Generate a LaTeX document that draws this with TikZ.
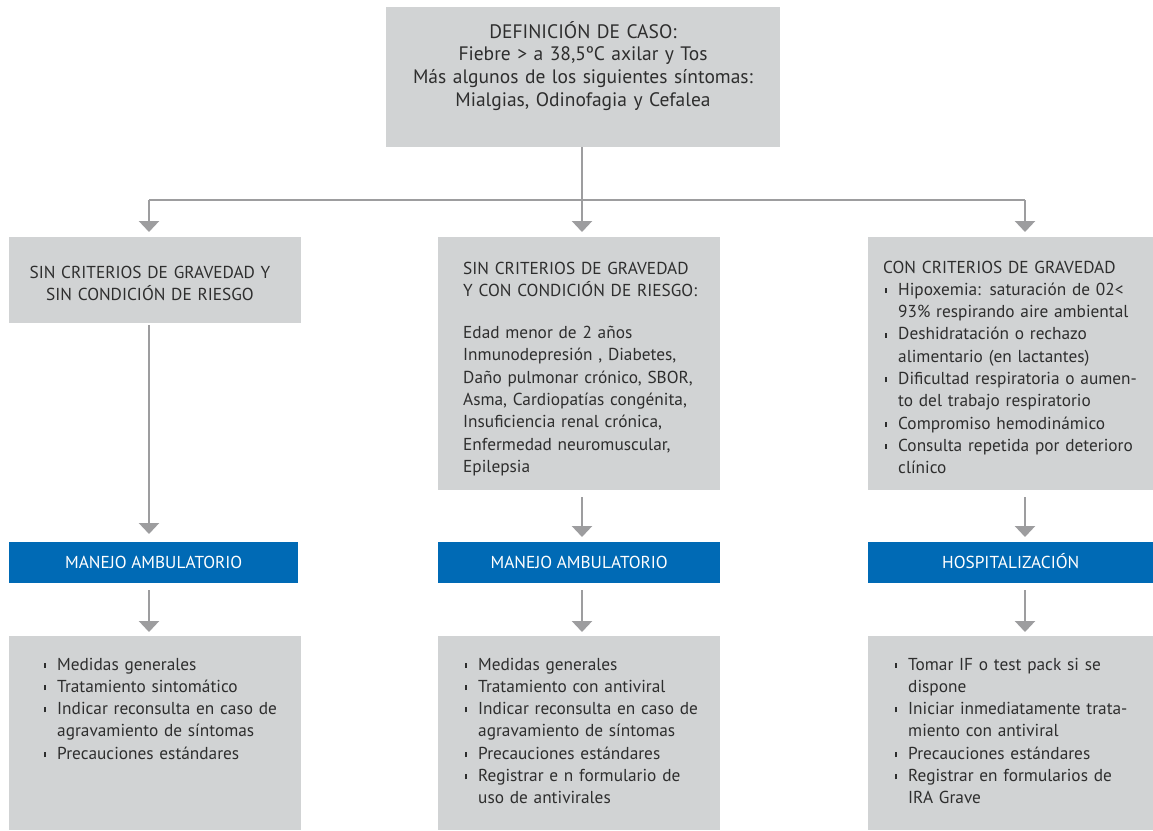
\documentclass[tikz,border=0pt]{standalone}
\usepackage{fontspec}
\setmainfont{PT Sans}
\usetikzlibrary{arrows.meta}
\definecolor{boxgray}{HTML}{D1D3D4}
\definecolor{blueb}{HTML}{006AB5}
\definecolor{arrgray}{HTML}{9D9D9F}
\definecolor{txt}{HTML}{2E2E2E}
\newcommand{\fs}{\fontsize{17.3}{22.3}\selectfont\lineskiplimit=-10pt\relax}
\newcommand{\fsbig}{\fontsize{19.5}{22.8}\selectfont}
\newcommand{\bmark}{\makebox[13pt][l]{\raisebox{2.2pt}{\rule{1.4pt}{5pt}}}}
\newcommand{\itmf}[1]{\noindent\bmark\parbox[t]{245pt}{\fs #1\strut}}
\newcommand{\itm}[1]{\par\prevdepth=\dp\strutbox\itmf{#1}}
\newcommand{\itmR}[1]{\par\prevdepth=\dp\strutbox\noindent\hspace{2pt}\bmark\parbox[t]{245pt}{\fs #1\strut}}
\tikzset{
  gbox/.style={fill=boxgray, draw=none, anchor=north west, inner sep=0pt},
  bbox/.style={fill=blueb, draw=none, anchor=north west, inner sep=0pt, minimum height=41pt},
  btext/.style={text=white, font=\fs, anchor=center, inner sep=0pt, text height=12pt, text depth=0pt},
  gtext/.style={text=txt, font=\fs, inner sep=0pt, text width=#1, align=left, anchor=base west},
  ctext/.style={text=txt, font=\fs, inner sep=0pt, text width=#1, align=center, anchor=base},
  line/.style={draw=arrgray, line width=2.5pt},
  conn/.style={line, -{Triangle[width=20pt,length=11pt]}},
}
\begin{document}
\begin{tikzpicture}[x=1pt,y=-1pt]
\useasboundingbox (0,0) rectangle (1153,830);
% boxes
\node[gbox, minimum width=394pt, minimum height=140pt] (top) at (386,7) {};
\node[gbox, minimum width=292pt, minimum height=86pt] (L1) at (9,237) {};
\node[gbox, minimum width=282pt, minimum height=253pt] (M1) at (438,237) {};
\node[gbox, minimum width=285pt, minimum height=253pt] (R1) at (868,237) {};
\node[bbox, minimum width=289pt] (L2) at (9,542) {};
\node[bbox, minimum width=282pt] (M2) at (438,542) {};
\node[bbox, minimum width=285pt] (R2) at (868,542) {};
\node[gbox, minimum width=292pt, minimum height=194pt] (L3) at (9,636) {};
\node[gbox, minimum width=282pt, minimum height=194pt] (M3) at (438,636) {};
\node[gbox, minimum width=285pt, minimum height=194pt] (R3) at (868,636) {};
% texts
\node[ctext=390pt, font=\fsbig] (ttop) at (583,38) {DEFINICIÓN DE CASO:\\Fiebre > a 38,5ºC axilar y Tos\\Más algunos de los siguientes síntomas:\\Mialgias, Odinofagia y Cefalea};
\node[ctext=280pt] (tL1) at (150,278) {SIN CRITERIOS DE GRAVEDAD Y\\SIN CONDICIÓN DE RIESGO};
\node[gtext=250pt] (tM1) at (463,274) {\makebox[243pt][s]{SIN CRITERIOS DE GRAVEDAD}\\\makebox[243pt][s]{Y CON CONDICIÓN DE RIESGO:}\\[20pt]Edad menor de 2 años\\Inmunodepresión , Diabetes,\\Daño pulmonar crónico, SBOR,\\Asma, Cardiopatías congénita,\\Insuficiencia renal crónica,\\Enfermedad neuromuscular,\\Epilepsia};
\node[gtext=265pt] (tR1) at (883,273) {CON CRITERIOS DE GRAVEDAD\strut
\itmR{Hipoxemia: saturación de 02<\\93\% respirando aire ambiental}
\itmR{Deshidratación o rechazo\\alimentario (en lactantes)}
\itmR{Dificultad respiratoria o aumen-\\to del trabajo respiratorio}
\itmR{Compromiso hemodinámico}
\itmR{Consulta repetida por deterioro\\clínico}};
\node[btext] (tL2) at (L2.center) {MANEJO AMBULATORIO};
\node[btext] (tM2) at (M2.center) {MANEJO AMBULATORIO};
\node[btext] (tR2) at (R2.center) {HOSPITALIZACIÓN};
\node[gtext=260pt] (tL3) at (44,670) {\itmf{Medidas generales}
\itm{Tratamiento sintomático}
\itm{Indicar reconsulta en caso de\\agravamiento de síntomas}
\itm{Precauciones estándares}};
\node[gtext=260pt] (tM3) at (465,670) {\itmf{Medidas generales}
\itm{Tratamiento con antiviral}
\itm{Indicar reconsulta en caso de\\agravamiento de síntomas}
\itm{Precauciones estándares}
\itm{Registrar e n formulario de\\uso de antivirales}};
\node[gtext=260pt] (tR3) at (895,670) {\itmf{Tomar IF o test pack si se\\dispone}
\itm{Iniciar inmediatamente trata-\\miento con antiviral}
\itm{Precauciones estándares}
\itm{Registrar en formularios de\\IRA Grave}};
% connectors
\coordinate (jL) at (149,200);
\coordinate (jM) at (582,200);
\coordinate (jR) at (1025,200);
\draw[line] (jM |- top.south) -- (jM);
\draw[line] (jL) -- (jR);
\draw[conn, shorten >=5pt] (jL) -- (jL |- L1.north);
\draw[conn, shorten >=5pt] (jM) -- (jM |- M1.north);
\draw[conn, shorten >=5pt] (jR) -- (jR |- R1.north);
\draw[conn, shorten <=2pt, shorten >=8pt] (jL |- L1.south) -- (jL |- L2.north);
\draw[conn, shorten <=7pt, shorten >=5pt] (jM |- M1.south) -- (jM |- M2.north);
\draw[conn, shorten <=7pt, shorten >=5pt] (jR |- R1.south) -- (jR |- R2.north);
\draw[conn, shorten <=7pt, shorten >=4pt] (jL |- L2.south) -- (jL |- L3.north);
\draw[conn, shorten <=7pt, shorten >=4pt] (jM |- M2.south) -- (jM |- M3.north);
\draw[conn, shorten <=7pt, shorten >=4pt] (jR |- R2.south) -- (jR |- R3.north);
\end{tikzpicture}
\end{document}
